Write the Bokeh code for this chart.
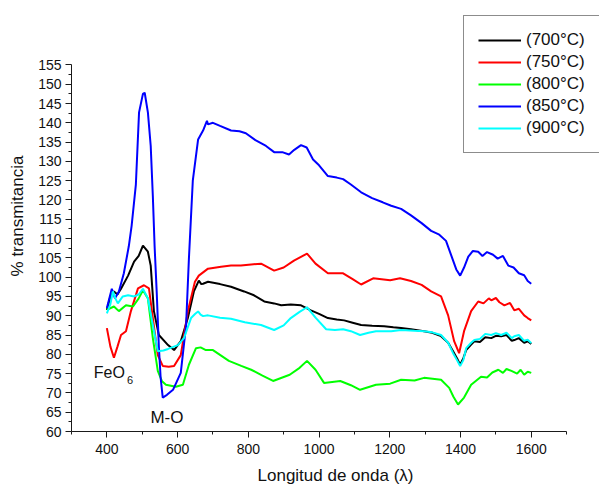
from bokeh.plotting import figure
from bokeh.models import Range1d, FixedTicker, Legend, LegendItem, Label
from bokeh.embed import file_html
from bokeh.resources import INLINE

FONT = "Liberation Sans"

# ---- data ----
x_700 = [400, 410, 420, 430, 440, 460, 477, 490, 502, 516, 524, 533, 547, 573, 590, 609, 629, 646, 660, 667, 672, 686, 720, 751, 788, 816, 845, 873, 893, 920, 949, 977, 1000, 1025, 1050, 1071, 1095, 1119, 1150, 1184, 1210, 1232, 1260, 1297, 1320, 1345, 1365, 1379, 1390, 1399, 1408, 1416, 1430, 1439, 1455, 1470, 1487, 1500, 1515, 1530, 1545, 1552, 1565, 1580, 1590, 1600]
y_700 = [91.5, 95, 96.3, 95.5, 97, 100.4, 104, 105.5, 108.2, 106.6, 103, 91.2, 85, 82.4, 81.1, 83.4, 89.4, 96.3, 99.1, 98.2, 98.3, 98.8, 98.2, 97.5, 96.3, 95.3, 93.7, 93.2, 92.7, 92.9, 92.7, 91.4, 90.5, 89.4, 89, 88.8, 88.2, 87.6, 87.4, 87.3, 87, 86.8, 86.5, 86, 85.6, 84.7, 83, 80.8, 79, 77.3, 79, 81.1, 82.5, 83.4, 83.2, 84.4, 84.2, 84.8, 84.7, 85, 83.5, 83.7, 84.2, 83, 83.4, 82.7]

x_750 = [400, 410, 420, 430, 440, 454, 468, 488, 505, 519, 530, 544, 558, 575, 590, 609, 629, 649, 660, 686, 723, 751, 779, 808, 836, 873, 900, 929, 966, 990, 1025, 1068, 1095, 1119, 1153, 1201, 1229, 1260, 1290, 1317, 1345, 1365, 1382, 1396, 1410, 1430, 1450, 1465, 1480, 1487, 1500, 1510, 1524, 1540, 1552, 1565, 1580, 1590, 1600]
y_750 = [86.8, 82, 79.1, 82, 85, 86, 91.2, 97.1, 97.9, 97.1, 89.4, 79.8, 77, 76.8, 77, 79.8, 91.2, 98.8, 100.4, 102.2, 102.7, 103, 103, 103.3, 103.5, 101.7, 102.5, 104.3, 106.1, 103.5, 101, 101, 99.5, 98.1, 99.7, 99.2, 99.7, 99, 98, 96.3, 95, 90.1, 83.4, 80.3, 86, 91.2, 93.7, 93.2, 94.5, 94, 94.6, 93.5, 92.7, 93.3, 91.4, 91.8, 90.1, 89.4, 88.8]

x_800 = [400, 420, 434, 454, 474, 490, 502, 516, 530, 544, 556, 567, 595, 615, 632, 652, 665, 680, 700, 745, 780, 808, 840, 870, 917, 945, 966, 990, 1014, 1060, 1090, 1116, 1161, 1201, 1232, 1270, 1297, 1345, 1368, 1380, 1393, 1410, 1430, 1458, 1475, 1490, 1507, 1520, 1530, 1544, 1560, 1570, 1580, 1590, 1600]
y_800 = [91.5, 92.4, 91.2, 92.7, 92.4, 94.5, 96.6, 94.5, 84.2, 75.7, 73, 72.1, 71.6, 72.1, 77.3, 81.6, 81.8, 81.1, 81.1, 78.3, 77, 76, 74.5, 73.1, 74.7, 76.5, 78.3, 76, 72.6, 73.1, 72, 70.8, 72.1, 72.4, 73.4, 73.2, 73.9, 73.4, 71.3, 69, 67, 68.8, 72.1, 74.2, 74, 75.3, 76, 75.2, 76.2, 75.7, 75, 76, 74.7, 75.5, 75.2]

x_850 = [400, 414, 423, 434, 448, 462, 470, 482, 491, 502, 507, 516, 524, 530, 535, 541, 547, 552, 558, 570, 587, 609, 624, 632, 643, 658, 672, 683, 686, 700, 720, 751, 775, 793, 820, 850, 873, 896, 915, 930, 949, 965, 983, 1000, 1025, 1050, 1068, 1090, 1119, 1150, 1180, 1204, 1232, 1260, 1290, 1317, 1340, 1359, 1374, 1388, 1399, 1410, 1422, 1435, 1450, 1462, 1475, 1492, 1505, 1520, 1535, 1550, 1565, 1580, 1590, 1600]
y_850 = [92, 97, 94.5, 96.3, 101, 108, 113.3, 124, 142.7, 147.5, 147.8, 142.7, 134, 121, 108, 96, 82, 74, 68.8, 69.5, 70.8, 75.2, 87.5, 104.8, 125, 135.7, 138, 140.5, 139.6, 140, 139.2, 138, 137.8, 137.3, 135.5, 134, 132.4, 132.4, 131.8, 133, 134.2, 133.6, 130.5, 129, 126.2, 125.8, 125.4, 124, 122, 120.5, 119.4, 118.5, 117.7, 116, 114, 112, 111, 109.4, 105.6, 102, 100.4, 102.5, 105.3, 106.8, 106.6, 105.5, 106.5, 105.8, 104.8, 105.5, 103, 102.5, 101, 100.5, 99, 98.3]

x_900 = [400, 410, 417, 424, 431, 445, 460, 477, 490, 502, 516, 530, 544, 560, 573, 601, 618, 638, 650, 658, 665, 672, 686, 720, 751, 790, 836, 873, 900, 920, 945, 966, 990, 1020, 1045, 1068, 1090, 1116, 1140, 1161, 1204, 1232, 1270, 1297, 1320, 1345, 1365, 1379, 1390, 1399, 1408, 1416, 1430, 1439, 1455, 1470, 1487, 1500, 1515, 1530, 1545, 1552, 1565, 1580, 1590, 1600]
y_900 = [90.6, 93, 96.3, 94.5, 93.2, 95, 95.3, 95, 95.5, 97, 94.5, 87.6, 80.8, 81, 81.4, 82.4, 84.2, 89.4, 90.5, 91.1, 90.3, 89.9, 90.1, 89.5, 89.2, 88.3, 87.6, 86.3, 87.5, 89.4, 91, 92.2, 89.5, 86.5, 86.3, 86.5, 86, 85, 85.6, 86, 86, 86.3, 86.1, 86, 85.7, 85, 83, 80.3, 78.5, 77, 78.5, 81.6, 83, 83.7, 84, 85.3, 85, 85.5, 85, 85.6, 84.2, 84.7, 85, 83.5, 83.8, 82.9]

series_labels = ["(700°C)", "(750°C)", "(800°C)", "(850°C)", "(900°C)"]
series_colors = ["#000000", "#FF0000", "#00FF00", "#0000FF", "#00FFFF"]
series_x = [x_700, x_750, x_800, x_850, x_900]
series_y = [y_700, y_750, y_800, y_850, y_900]

y_major = list(range(60, 156, 5))
y_minor = [v + 2.5 for v in range(60, 155, 5)]
x_major = list(range(400, 1601, 200))
x_minor = list(range(300, 1701, 100))

# axis extents of the data area; the frame extends beyond them (to the top and
# right edges) so that the legend box can sit where the reference shows it
X_AXIS_BOUNDS = (300, 1700)
Y_AXIS_BOUNDS = (60, 155)
X_VIEW_END = 1793
Y_VIEW_END = 171.7

p = figure(width=599, height=487, output_backend="svg", toolbar_location=None,
           x_range=Range1d(300, X_VIEW_END), y_range=Range1d(60, Y_VIEW_END),
           min_border_left=71, min_border_right=0, min_border_top=0, min_border_bottom=53)
p.outline_line_color = None
p.xgrid.visible = False
p.ygrid.visible = False
p.background_fill_color = "white"
p.border_fill_color = "white"

renderers = []
for xs, ys, c in zip(series_x, series_y, series_colors):
    r = p.line(xs, ys, line_color=c, line_width=2)
    renderers.append(r)

# axes
for ax in (p.xaxis[0], p.yaxis[0]):
    ax.axis_line_color = "#1a1a1a"
    ax.major_tick_line_color = "#1a1a1a"
    ax.minor_tick_line_color = "#1a1a1a"
    ax.major_tick_in = 0
    ax.major_tick_out = 6
    ax.minor_tick_in = 0
    ax.minor_tick_out = 3
    ax.major_label_text_font = FONT
    ax.major_label_text_font_size = "14px"
    ax.major_label_text_color = "#111111"
    ax.axis_label_text_font = FONT
    ax.axis_label_text_font_size = "17px"
    ax.axis_label_text_font_style = "normal"
    ax.axis_label_text_color = "#111111"

p.xaxis.bounds = X_AXIS_BOUNDS
p.yaxis.bounds = Y_AXIS_BOUNDS
p.xaxis.ticker = FixedTicker(ticks=x_major, minor_ticks=x_minor)
p.yaxis.ticker = FixedTicker(ticks=y_major, minor_ticks=y_minor)
p.xaxis.axis_label = "Longitud de onda (λ)"
p.yaxis.axis_label = "% transmitancia"
p.xaxis.major_label_standoff = 6
p.xaxis.axis_label_standoff = 9
p.yaxis.major_label_standoff = 4
p.yaxis.axis_label_standoff = 8

# annotations
p.add_layout(Label(x=363, y=75.2, text="FeO", text_font=FONT, text_font_size="16px",
                   text_color="#111111", text_baseline="alphabetic"))
p.add_layout(Label(x=457, y=73.4, text="6", text_font=FONT, text_font_size="11px",
                   text_color="#111111", text_baseline="alphabetic"))
p.add_layout(Label(x=570, y=63.6, text="M-O", text_font=FONT, text_font_size="17px",
                   text_color="#111111", text_align="center", text_baseline="alphabetic"))

legend = Legend(items=[LegendItem(label=l, renderers=[r]) for l, r in zip(series_labels, renderers)],
                location=(392, 278))
legend.label_text_font = FONT
legend.label_text_font_size = "17px"
legend.label_text_color = "#111111"
legend.glyph_width = 43
legend.glyph_height = 20
legend.label_height = 20
legend.label_standoff = 5
legend.padding = 14
legend.spacing = 2
legend.margin = 0
legend.border_line_color = "#1a1a1a"
legend.border_line_width = 1
legend.background_fill_color = "white"
legend.background_fill_alpha = 1.0
p.add_layout(legend, "center")

open("out.html", "w").write(file_html(p, INLINE))
